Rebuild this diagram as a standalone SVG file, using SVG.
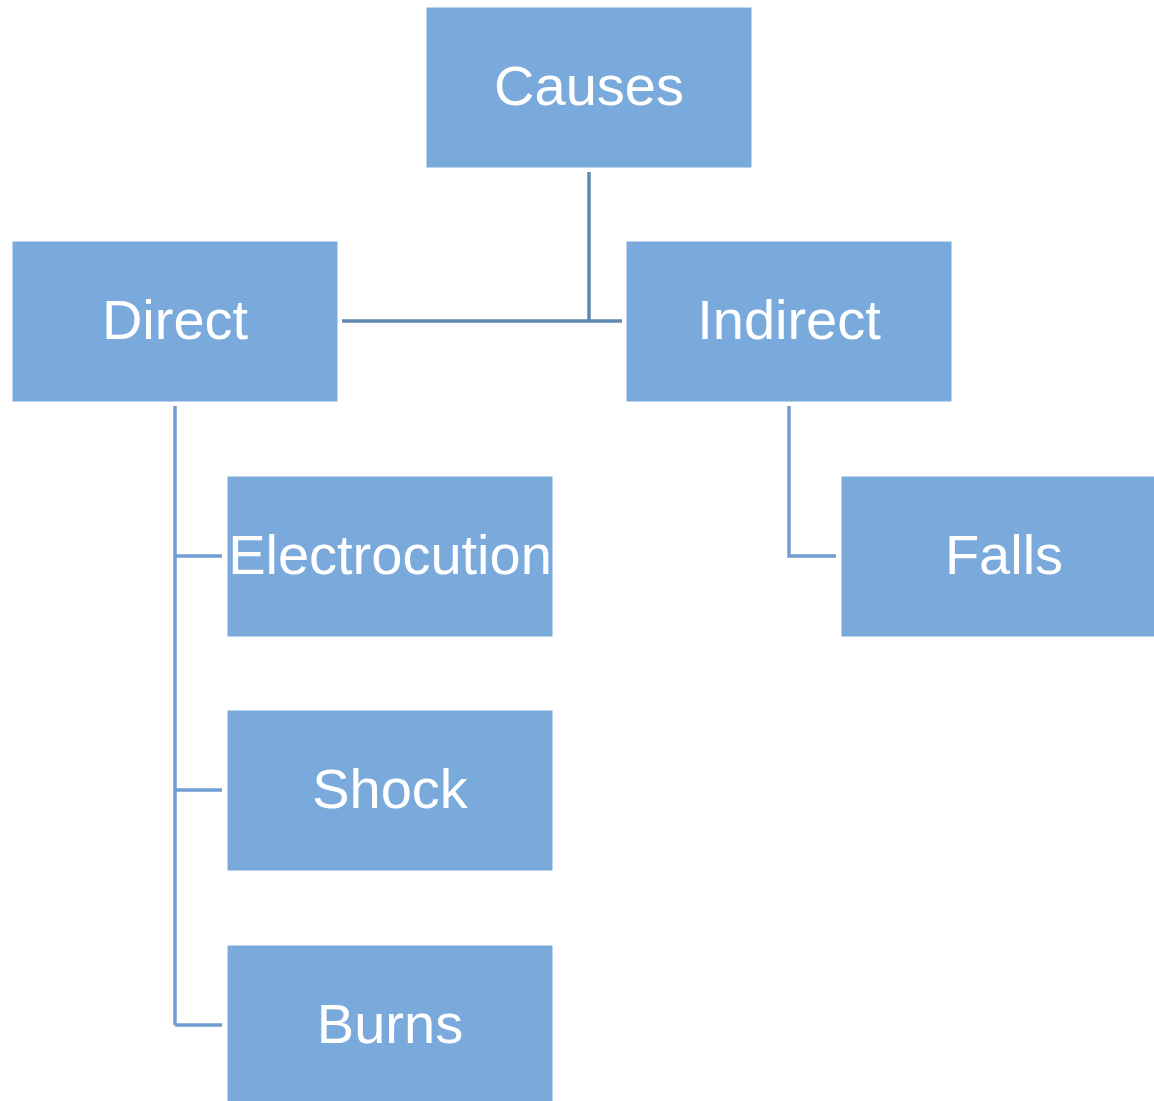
<svg xmlns="http://www.w3.org/2000/svg" width="1154" height="1101" viewBox="0 0 1154 1101">
<style>
.box{fill:#7aaadc;stroke:#ffffff;stroke-width:1}
.lbl{font-family:"Liberation Sans",Arial,sans-serif;font-size:56px;fill:#ffffff;text-anchor:middle}
.c1{stroke:#5f89b3;stroke-width:3.5;fill:none}
.c2{stroke:#6f9fd2;stroke-width:3.5;fill:none}
</style>
<rect width="1154" height="1101" fill="#ffffff"/>
<g id="connectors">
<path class="c1" d="M589 172V321M342 321H622"/>
<path class="c2" d="M175 406V1025M175 556H222M175 790H222M175 1025H222"/>
<path class="c2" d="M789 406V556H836"/>
</g>
<g id="causes"><rect class="box" x="426" y="7" width="326" height="161"/><text class="lbl" x="589" y="105">Causes</text></g>
<g id="direct"><rect class="box" x="12" y="241" width="326" height="161"/><text class="lbl" x="175" y="339">Direct</text></g>
<g id="indirect"><rect class="box" x="626" y="241" width="326" height="161"/><text class="lbl" x="789" y="339">Indirect</text></g>
<g id="electrocution"><rect class="box" x="227" y="476" width="326" height="161"/><text class="lbl" x="390" y="574">Electrocution</text></g>
<g id="falls"><rect class="box" x="841" y="476" width="326" height="161"/><text class="lbl" x="1004" y="574">Falls</text></g>
<g id="shock"><rect class="box" x="227" y="710" width="326" height="161"/><text class="lbl" x="390" y="808">Shock</text></g>
<g id="burns"><rect class="box" x="227" y="945" width="326" height="161"/><text class="lbl" x="390" y="1043">Burns</text></g>
</svg>
